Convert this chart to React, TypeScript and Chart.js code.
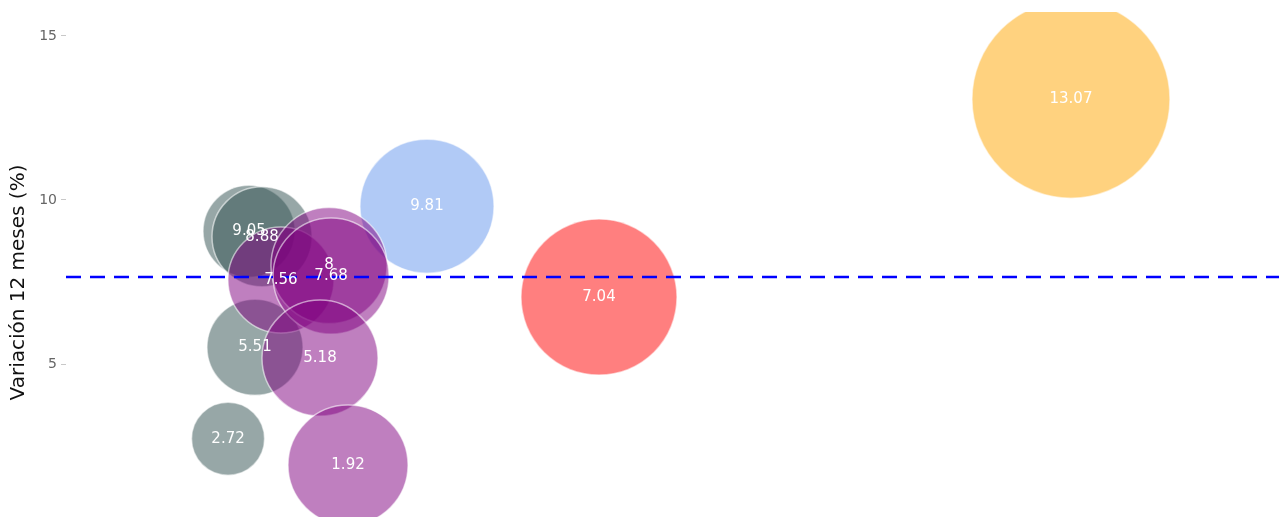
import React, { useEffect, useRef } from "react";
import { Chart, registerables } from "chart.js";

Chart.register(...registerables);

// Bubble data (x in arbitrary units 0..100, y = variación 12 meses, r = bubble radius px)
const labels = ["13.07", "9.81", "7.04", "9.05", "8.88", "5.51", "2.72", "7.56", "8", "7.68", "5.18", "1.92"];
const xValues = [82.85, 29.76, 43.94, 15.09, 16.16, 15.58, 13.36, 17.72, 21.68, 21.85, 20.94, 23.25];
const yValues = [13.07, 9.81, 7.04, 9.05, 8.88, 5.51, 2.72, 7.56, 8, 7.68, 5.18, 1.92];
const radii = [99, 67, 78, 46, 50, 48, 36.5, 53, 58, 58, 58, 60];
const colors = [
  "rgba(255,165,0,0.5)",
  "rgba(100,149,237,0.5)",
  "rgba(255,0,0,0.5)",
  "rgba(47,79,79,0.5)",
  "rgba(47,79,79,0.5)",
  "rgba(47,79,79,0.5)",
  "rgba(47,79,79,0.5)",
  "rgba(128,0,128,0.5)",
  "rgba(128,0,128,0.5)",
  "rgba(128,0,128,0.5)",
  "rgba(128,0,128,0.5)",
  "rgba(128,0,128,0.5)",
];
const yTicks = [5, 10, 15];
const referenceLine = 7.65;
const yTitle = "Variación 12 meses (%)";

export default function App() {
  const ref = useRef<HTMLCanvasElement | null>(null);
  useEffect(() => {
    document.body.style.margin = "0";
    document.body.style.overflow = "hidden";
    if (!ref.current) return;
    const data = xValues.map((x, i) => ({ x, y: yValues[i], r: radii[i] }));
    const labelPlugin = {
      id: "bubbleLabels",
      afterDatasetsDraw(chart: any) {
        const ctx = chart.ctx;
        const meta = chart.getDatasetMeta(0);
        const { chartArea, scales } = chart;
        ctx.save();
        const yy = scales.y.getPixelForValue(referenceLine);
        ctx.strokeStyle = "#0000ff";
        ctx.lineWidth = 2.5;
        ctx.setLineDash([15, 9]);
        ctx.beginPath();
        ctx.moveTo(chartArea.left, yy);
        ctx.lineTo(chartArea.right, yy);
        ctx.stroke();
        ctx.setLineDash([]);
        ctx.fillStyle = "#ffffff";
        ctx.font = "15px 'DejaVu Sans', Verdana, sans-serif";
        ctx.textAlign = "center";
        ctx.textBaseline = "middle";
        meta.data.forEach((el: any, i: number) => {
          ctx.fillText(labels[i], el.x, el.y);
        });
        ctx.restore();
      },
    };
    const chart = new Chart(ref.current, {
      type: "bubble",
      data: {
        datasets: [
          {
            data,
            backgroundColor: colors,
            borderColor: "rgba(255,255,255,0.55)",
            borderWidth: 1.5,
            hoverBorderWidth: 1.5,
          },
        ],
      },
      options: {
        animation: false,
        responsive: false,
        maintainAspectRatio: false,
        layout: { autoPadding: false, padding: { top: 12, right: 0, bottom: 0, left: 0 } },
        plugins: { legend: { display: false }, tooltip: { enabled: false } },
        scales: {
          x: { type: "linear", display: false, min: 0, max: 100 },
          y: {
            type: "linear",
            min: -0.76,
            max: 15.73,
            afterBuildTicks: (scale: any) => {
              scale.ticks = yTicks.map((v) => ({ value: v }));
            },
            afterFit: (scale: any) => {
              scale.width = 66;
              scale.paddingTop = 0;
              scale.paddingBottom = 0;
            },
            border: { display: false },
            grid: {
              drawOnChartArea: false,
              drawTicks: true,
              tickLength: 5,
              color: "#c8c8c8",
            },
            ticks: {
              padding: 4,
              color: "#666",
              font: { family: "'DejaVu Sans', Verdana, sans-serif", size: 14 },
            },
            title: {
              display: true,
              text: yTitle,
              color: "#111",
              font: { family: "'DejaVu Sans', Verdana, sans-serif", size: 20 },
              padding: { top: 7, bottom: 0 },
            },
          },
        },
      },
      plugins: [labelPlugin],
    });
    return () => chart.destroy();
  }, []);
  return (
    <div style={{ width: 1279, height: 517, overflow: "hidden" }}>
      <canvas ref={ref} width={1279} height={553} style={{ display: "block" }} />
    </div>
  );
}
